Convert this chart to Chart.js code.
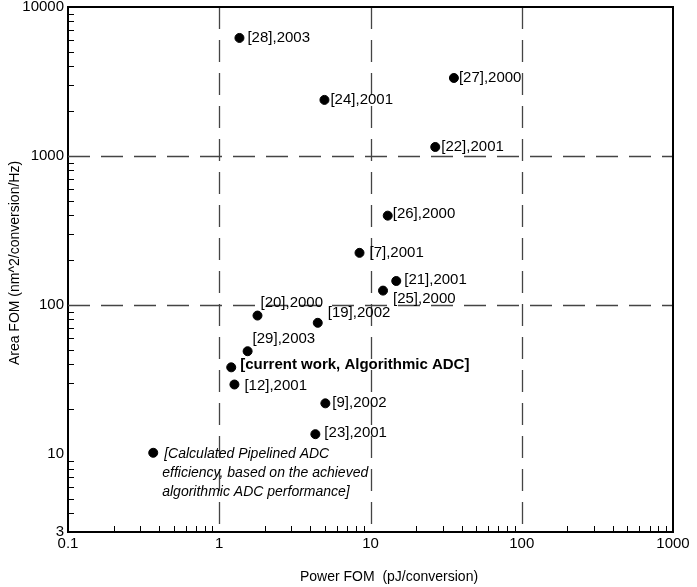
<!DOCTYPE html>
<html>
<head>
<meta charset="utf-8">
<script src="https://cdn.jsdelivr.net/npm/chart.js@4/dist/chart.umd.min.js"></script>
<style>
  html, body { margin: 0; padding: 0; background: #fff; }
  #wrap { width: 697px; height: 587px; position: relative; }
</style>
</head>
<body>
<div id="wrap"><canvas id="c" width="697" height="587"></canvas></div>
<script>
// ---- data ----
const refLabels = ['[28],2003', '[24],2001', '[27],2000', '[22],2001', '[26],2000', '[7],2001',
  '[21],2001', '[25],2000', '[20],2000', '[19],2002', '[29],2003', '[current work, Algorithmic ADC]',
  '[12],2001', '[9],2002', '[23],2001',
  '[Calculated Pipelined ADC|efficiency, based on the achieved|algorithmic ADC performance]'];
const powerFOM = [1.36, 4.96, 35.6, 26.8, 13.0, 8.46, 14.8, 12.1, 1.79, 4.48, 1.54, 1.20, 1.26, 5.03, 4.32, 0.366];
const areaFOM  = [6200, 2380, 3340, 1150, 398, 224, 145, 125, 85, 76, 49, 38.2, 29.3, 21.9, 13.6, 10.2];
const xTickValues = [0.1, 1, 10, 100, 1000];
const yTickValues = [3, 10, 100, 1000, 10000];
const xDashedValues = [1, 10, 100];
const yDashedValues = [100, 1000];
const xTitle = 'Power FOM  (pJ/conversion)';
const yTitle = 'Area FOM (nm^2/conversion/Hz)';

// ---- label styles (offsets from dot centre, px) ----
const labelStyle = [
  {dx: 8, dy: 0}, {dx: 6, dy: 0}, {dx: 5, dy: 0}, {dx: 6, dy: 0}, {dx: 5, dy: -2}, {dx: 10, dy: 0},
  {dx: 8, dy: -1}, {dx: 10, dy: 8}, {dx: 3, dy: -13}, {dx: 10, dy: -10}, {dx: 5, dy: -12},
  {dx: 9, dy: -2, font: 'bold 15px "Liberation Sans", Arial, sans-serif'},
  {dx: 10, dy: 1}, {dx: 7, dy: 0}, {dx: 9, dy: -1},
  {dx: 11, dy: 1, font: 'italic 14px "Liberation Sans", Arial, sans-serif', lineGap: 19, lineDx: [0, -2, -2]}
];
const baseFont = '15px "Liberation Sans", Arial, sans-serif';
const titleFont = '14px "Liberation Sans", Arial, sans-serif';

const decor = {
  id: 'decor',
  beforeDatasetsDraw(chart) {
    const {ctx, chartArea: a, scales: {x, y}} = chart;
    ctx.save();
    // dashed reference lines
    ctx.strokeStyle = '#444';
    ctx.lineWidth = 1.3;
    ctx.setLineDash([22, 11]);
    xDashedValues.forEach(v => {
      const px = Math.round(x.getPixelForValue(v)) + 0.5;
      ctx.beginPath(); ctx.moveTo(px, a.top); ctx.lineTo(px, a.bottom); ctx.stroke();
    });
    yDashedValues.forEach(v => {
      const py = Math.round(y.getPixelForValue(v)) + 0.5;
      ctx.beginPath(); ctx.moveTo(a.left, py); ctx.lineTo(a.right, py); ctx.stroke();
    });
    ctx.setLineDash([]);
    // minor ticks pointing inward
    ctx.strokeStyle = '#000';
    ctx.lineWidth = 1;
    const tl = 6;
    for (let d = 0.1; d < 1000; d *= 10) {
      for (let m = 2; m <= 9; m++) {
        const px = Math.round(x.getPixelForValue(d * m)) + 0.5;
        ctx.beginPath(); ctx.moveTo(px, a.bottom); ctx.lineTo(px, a.bottom - tl); ctx.stroke();
      }
    }
    for (let d = 1; d < 10000; d *= 10) {
      for (let m = 2; m <= 9; m++) {
        const v = d * m;
        if (v <= 3 || v >= 10000) continue;
        const py = Math.round(y.getPixelForValue(v)) + 0.5;
        ctx.beginPath(); ctx.moveTo(a.left, py); ctx.lineTo(a.left + tl, py); ctx.stroke();
      }
    }
    // frame top/right
    ctx.lineWidth = 2;
    ctx.beginPath();
    ctx.moveTo(a.left, a.top); ctx.lineTo(a.right, a.top); ctx.lineTo(a.right, a.bottom);
    ctx.stroke();
    // axis titles
    ctx.fillStyle = '#000';
    ctx.font = titleFont;
    ctx.textAlign = 'center';
    ctx.textBaseline = 'middle';
    ctx.fillText(xTitle, 389, 577);
    ctx.translate(15, 263);
    ctx.rotate(-Math.PI / 2);
    ctx.fillText(yTitle, 0, 0);
    ctx.restore();
  },
  afterDatasetsDraw(chart) {
    const {ctx} = chart;
    const meta = chart.getDatasetMeta(0);
    ctx.save();
    ctx.fillStyle = '#000';
    ctx.textAlign = 'left';
    ctx.textBaseline = 'middle';
    meta.data.forEach((pt, i) => {
      const st = labelStyle[i] || {dx: 8, dy: 0};
      ctx.font = st.font || baseFont;
      const lines = refLabels[i].split('|');
      lines.forEach((ln, k) => {
        const ldx = st.lineDx ? st.lineDx[k] : 0;
        ctx.fillText(ln, pt.x + st.dx + ldx, pt.y + st.dy + k * (st.lineGap || 18));
      });
    });
    ctx.restore();
  }
};

new Chart(document.getElementById('c'), {
  type: 'scatter',
  data: {
    datasets: [{
      data: powerFOM.map((v, i) => ({x: v, y: areaFOM[i]})),
      backgroundColor: '#000',
      borderColor: '#000',
      pointRadius: 4.5,
      pointHoverRadius: 4.5
    }]
  },
  options: {
    responsive: false,
    animation: false,
    events: [],
    layout: {padding: {left: 0, right: 24, top: 7, bottom: 0}},
    plugins: {legend: {display: false}, tooltip: {enabled: false}},
    scales: {
      x: {
        type: 'logarithmic',
        min: 0.1, max: 1000,
        afterBuildTicks: s => { s.ticks = xTickValues.map(v => ({value: v})); },
        afterFit: s => { s.height = 55; s.paddingLeft = 0; s.paddingRight = 0; },
        grid: {display: false, drawTicks: false},
        border: {display: true, color: '#000', width: 2},
        ticks: {
          color: '#000', padding: 3, maxRotation: 0, autoSkip: false,
          font: {family: '"Liberation Sans", Arial, sans-serif', size: 15},
          callback: v => String(v)
        }
      },
      y: {
        type: 'logarithmic',
        min: 3, max: 10000,
        afterBuildTicks: s => { s.ticks = yTickValues.map(v => ({value: v})); },
        afterFit: s => { s.width = 68; s.paddingTop = 0; s.paddingBottom = 0; },
        grid: {display: false, drawTicks: false},
        border: {display: true, color: '#000', width: 2},
        ticks: {
          color: '#000', padding: 4, autoSkip: false,
          font: {family: '"Liberation Sans", Arial, sans-serif', size: 15},
          callback: v => String(v)
        }
      }
    }
  },
  plugins: [decor]
});
</script>
</body>
</html>
